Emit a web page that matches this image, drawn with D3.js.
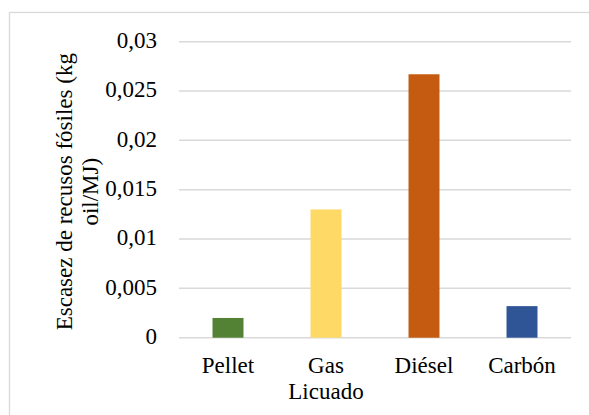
<!DOCTYPE html>
<html>
<head>
<meta charset="utf-8">
<script src="https://cdn.jsdelivr.net/npm/d3@7"></script>
<style>
  html, body { margin: 0; padding: 0; background: #fff; }
  svg { display: block; }
</style>
</head>
<body>
<svg id="chart" width="589" height="415"></svg>
<script>
// Fossil resource scarcity per fuel (kg oil / MJ)
const categories = [["Pellet"], ["Gas", "Licuado"], ["Diésel"], ["Carbón"]];
const values = [0.002, 0.013, 0.0267, 0.0032];
const colors = ["#548235", "#FFD966", "#C55A11", "#2F5597"];
const yTicks = [0, 0.005, 0.01, 0.015, 0.02, 0.025, 0.03];
const yTickLabels = ["0", "0,005", "0,01", "0,015", "0,02", "0,025", "0,03"];
const yTitle = ["Escasez de recusos fósiles (kg", "oil/MJ)"];

const serif = "'Liberation Serif', 'Times New Roman', Times, serif";
const svg = d3.select("#chart")
  .attr("font-family", serif)
  .style("font-family", serif);
const plot = { left: 179, right: 571, top: 41.7, bottom: 337.7 };
const fontSize = 23;

// chart frame
svg.append("rect")
  .attr("x", 9.5).attr("y", 12.5)
  .attr("width", 620).attr("height", 440)
  .attr("fill", "none").attr("stroke", "#d9d9d9").attr("stroke-width", 1.3);

const x = d3.scaleBand()
  .domain(d3.range(categories.length))
  .range([plot.left, plot.right])
  .paddingInner(0.684).paddingOuter(0.342);

const y = d3.scaleLinear().domain([0, 0.03]).range([plot.bottom, plot.top]);

// gridlines
svg.append("g").selectAll("line")
  .data(yTicks)
  .join("line")
  .attr("x1", plot.left).attr("x2", plot.right)
  .attr("y1", d => y(d)).attr("y2", d => y(d))
  .attr("stroke", "#d9d9d9").attr("stroke-width", 1.5);

// y tick labels
svg.append("g").selectAll("text")
  .data(yTicks)
  .join("text")
  .attr("x", 157).attr("y", d => y(d))
  .attr("dy", "0.27em")
  .attr("text-anchor", "end")
  .attr("font-size", fontSize)
  .attr("font-family", serif)
  .text((d, i) => yTickLabels[i]);

// bars
svg.append("g").selectAll("rect")
  .data(values)
  .join("rect")
  .attr("x", (d, i) => x(i))
  .attr("width", x.bandwidth())
  .attr("y", d => y(d))
  .attr("height", d => y(0) - y(d))
  .attr("fill", (d, i) => colors[i]);

// category labels
const cat = svg.append("g").selectAll("text")
  .data(categories)
  .join("text")
  .attr("text-anchor", "middle")
  .attr("font-size", fontSize)
  .attr("font-family", serif)
  .attr("y", 373);
cat.selectAll("tspan")
  .data((d, i) => d.map(t => ({ t, i })))
  .join("tspan")
  .attr("x", d => x(d.i) + x.bandwidth() / 2)
  .attr("dy", (d, j) => j === 0 ? 0 : 25.5)
  .text(d => d.t);

// y axis title
const yc = (plot.top + plot.bottom) / 2 + 2;
svg.append("text")
  .attr("transform", `translate(72,${yc}) rotate(-90)`)
  .attr("text-anchor", "middle")
  .attr("font-size", fontSize)
  .attr("font-family", serif)
  .selectAll("tspan")
  .data(yTitle)
  .join("tspan")
  .attr("x", 0)
  .attr("dy", (d, i) => i === 0 ? 0 : 25.5)
  .text(d => d);
</script>
</body>
</html>
